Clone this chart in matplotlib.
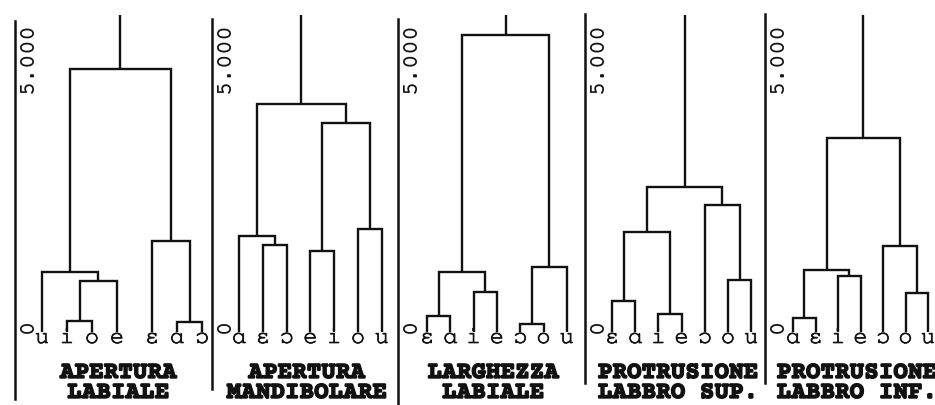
import matplotlib
matplotlib.use("Agg")
import matplotlib.pyplot as plt
from matplotlib import patheffects as pe

# ---- data: leaf order and merge steps (left id, right id, height) ----
titles = ["APERTURA\nLABIALE", "APERTURA\nMANDIBOLARE", "LARGHEZZA\nLABIALE",
          "PROTRUSIONE\nLABBRO SUP.", "PROTRUSIONE\nLABBRO INF."]

leaves_ap_lab = ["u", "i", "o", "e", "ɛ", "ɑ", "ɔ"]
merges_ap_lab = [(1, 2, 0.23), (7, 3, 1.06), (0, 8, 1.25),
                 (5, 6, 0.21), (4, 10, 1.90), (9, 11, 5.48)]

leaves_ap_mand = ["ɑ", "ɛ", "ɔ", "e", "i", "o", "u"]
merges_ap_mand = [(1, 2, 1.81), (0, 7, 2.00), (3, 4, 1.69),
                  (5, 6, 2.15), (9, 10, 4.35), (8, 11, 4.75)]

leaves_larg = ["ɛ", "ɑ", "i", "e", "ɔ", "o", "u"]
merges_larg = [(0, 1, 0.33), (2, 3, 0.83), (7, 8, 1.25),
               (4, 5, 0.17), (10, 6, 1.35), (9, 11, 6.19)]

leaves_prot_sup = ["ɛ", "ɑ", "i", "e", "ɔ", "o", "u"]
merges_prot_sup = [(0, 1, 0.65), (2, 3, 0.38), (7, 8, 2.08),
                   (5, 6, 1.08), (4, 10, 2.65), (9, 11, 3.02)]

leaves_prot_inf = ["ɑ", "ɛ", "i", "e", "ɔ", "o", "u"]
merges_prot_inf = [(0, 1, 0.29), (2, 3, 1.17), (7, 8, 1.29),
                   (5, 6, 0.81), (4, 10, 1.79), (9, 11, 4.04)]

scale_labels = ["0", "5.000"]
scale_values = [0.0, 5.0]

panels = [
    (leaves_ap_lab, merges_ap_lab),
    (leaves_ap_mand, merges_ap_mand),
    (leaves_larg, merges_larg),
    (leaves_prot_sup, merges_prot_sup),
    (leaves_prot_inf, merges_prot_inf),
]

# ---- layout (pixels) ----
W, H = 935, 406
zero_px, unit_px = 333.0, 48.0
axis_px = [15, 212, 398, 585, 765]
panel_w_px = [195, 184, 185, 178, 170]
first_leaf_px = [42, 239, 427, 612, 793]
leaf_step_px = [25.0, 23.8, 23.3, 23.2, 22.5]
leaf_slots = [[0, 1, 2, 3, 4.4, 5.4, 6.4]] + [list(range(7))] * 4
spine_px = [(22, 400), (20, 390), (20, 406), (15, 384), (15, 384)]
stem_top_px = 16


def px_to_v(p):
    return (zero_px - p) / unit_px


leaf_font = ["FreeMono", "DejaVu Sans Mono"]
scale_font = ["Courier Prime", "FreeMono", "DejaVu Sans Mono"]
title_font = ["Courier Prime", "FreeMono", "DejaVu Sans Mono"]
ink = "#111111"

fig = plt.figure(figsize=(W / 100, H / 100), dpi=100)
fig.patch.set_facecolor("white")

for k, ((leaves, merges), title) in enumerate(zip(panels, titles)):
    pw = panel_w_px[k]
    ax = fig.add_axes([axis_px[k] / W, 0, pw / W, 1])
    step = leaf_step_px[k]
    x_left = (axis_px[k] - first_leaf_px[k]) / step
    ax.set_xlim(x_left, x_left + pw / step)
    ax.set_ylim(px_to_v(H), px_to_v(0))
    ax.set_xticks([])
    ax.set_yticks([])
    for s in ("top", "right", "bottom"):
        ax.spines[s].set_visible(False)
    ax.spines["left"].set_linewidth(1.8)
    ax.spines["left"].set_color(ink)
    ax.spines["left"].set_bounds(px_to_v(spine_px[k][1]), px_to_v(spine_px[k][0]))
    ax.patch.set_alpha(0)

    xs = leaf_slots[k]
    nodes = {i: (x, 0.0) for i, x in enumerate(xs)}
    n = len(xs)
    for j, (a, b, h) in enumerate(merges):
        xa, ha = nodes[a]
        xb, hb = nodes[b]
        ax.plot([xa, xa, xb, xb], [ha, h, h, hb], color=ink, lw=1.7,
                solid_joinstyle="miter", solid_capstyle="butt")
        nodes[n + j] = ((xa + xb) / 2, h)
    rx, rh = nodes[n + len(merges) - 1]
    ax.plot([rx, rx], [rh, px_to_v(stem_top_px)], color=ink, lw=1.7,
            solid_capstyle="butt")

    # leaf labels
    for x, lab in zip(xs, leaves):
        ax.text(x, px_to_v(344), lab, ha="center", va="baseline",
                family=leaf_font, fontsize=17, color=ink,
                path_effects=[pe.withStroke(linewidth=0.5, foreground=ink)])

    # scale labels
    for lab, v in zip(scale_labels, scale_values):
        ax.text(x_left + 13 / step, v, lab, rotation=90, ha="center",
                va="bottom", family=scale_font, fontsize=17, color=ink)

    # title
    cx = (xs[0] + xs[-1]) / 2 - 4 / step
    line1, line2 = title.split("\n")
    for txt, base in ((line1, 379), (line2, 399)):
        ax.text(cx, px_to_v(base), txt, ha="center", va="baseline",
                family=title_font, fontsize=17.5, fontweight="bold", color=ink,
                path_effects=[pe.withStroke(linewidth=1.0, foreground=ink)])

fig.savefig("out.png", dpi=100, facecolor="white")
